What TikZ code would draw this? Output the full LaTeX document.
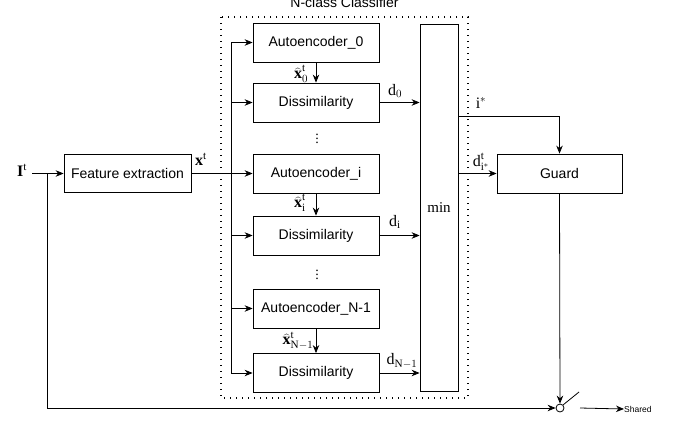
\documentclass[tikz,border=0pt]{standalone}
\usepackage{fontspec}
\setmainfont{Liberation Serif}
\setsansfont{Liberation Sans}
\usetikzlibrary{arrows.meta}
\begin{document}
\begin{tikzpicture}[x=1pt,y=-1pt,
  box/.style={draw, line width=0.8pt, font=\sffamily\fontsize{14}{16}\selectfont, inner sep=0pt, minimum width=126pt, minimum height=39pt},
  arr/.style={-{Stealth[length=8pt,width=6.5pt]}, line width=0.8pt},
  ln/.style={line width=0.8pt},
  lab/.style={font=\fontsize{16}{18}\selectfont, inner sep=0pt}]
\useasboundingbox (0,0) rectangle (688,423);

% dotted classifier frame and title
\draw[line width=1.4pt, dash pattern=on 1.4pt off 4.6pt] (221,17) rectangle (468,398);
\node[font=\sffamily\fontsize{14}{16}\selectfont, anchor=base, inner sep=0pt] (title) at (344.5,8) {N-class Classifier};

% boxes
\node[box, minimum width=127pt, minimum height=38pt] (fe) at (127.5,173.5) {Feature extraction};
\node[box] (ae0) at (316,42.5) {Autoencoder\_0};
\node[box] (dis0) at (316,102.5) {Dissimilarity};
\node[box] (aei) at (316,173.5) {Autoencoder\_i};
\node[box] (disi) at (316,235.5) {Dissimilarity};
\node[box] (aeN) at (316,308.5) {Autoencoder\_N-1};
\node[box] (disN) at (316,373) {Dissimilarity};
\node[box, font=\rmfamily\fontsize{15}{17}\selectfont, minimum width=38pt, minimum height=367pt] (min) at (439,207.5) {min};
\node[box, minimum width=125pt, minimum height=39pt] (guard) at (559.5,173.5) {Guard};

% dots
\node[font=\fontsize{14}{16}\selectfont, inner sep=0pt] (dots1) at (317,136) {$\vdots$};
\node[font=\fontsize{14}{16}\selectfont, inner sep=0pt] (dots2) at (317,272) {$\vdots$};

% labels
\node[lab] (Ilab) at (22,170) {$\mathbf{I}^{\mathrm{t}}$};
\node[lab] (xlab) at (201,159) {$\mathbf{x}^{\mathrm{t}}$};
\node[lab] (xh0) at (301,74) {$\widehat{\mathbf{x}}^{\mathrm{t}}_{0}$};
\node[lab] (xhi) at (300,203) {$\widehat{\mathbf{x}}^{\mathrm{t}}_{\mathrm{i}}$};
\node[lab] (xhN) at (298,341) {$\widehat{\mathbf{x}}^{\mathrm{t}}_{\mathrm{N}-1}$};
\node[lab] (d0) at (395,91) {$\mathrm{d}_{0}$};
\node[lab] (di) at (395,222) {$\mathrm{d}_{\mathrm{i}}$};
\node[lab] (dN) at (402,361) {$\mathrm{d}_{\mathrm{N}-1}$};
\node[lab] (istarlab) at (481,103) {$\mathrm{i}^{*}$};
\node[lab] (dstar) at (481,162) {$\mathrm{d}^{\mathrm{t}}_{\mathrm{i}^{*}}$};

% input
\coordinate (split) at (47,173.5);
\draw[arr] ([xshift=5pt]Ilab.east |- fe.west) -- (fe.west);
\draw[arr] (fe.east) -- (aei.west);

% bus
\coordinate (bus) at (231,0);
\draw[ln] (bus |- ae0.west) -- (bus |- disN.west);
\draw[arr] (bus |- ae0.west) -- (ae0.west);
\draw[arr] (bus |- dis0.west) -- (dis0.west);
\draw[arr] (bus |- disi.west) -- (disi.west);
\draw[arr] (bus |- aeN.west) -- (aeN.west);
\draw[arr] (bus |- disN.west) -- (disN.west);

% autoencoder -> dissimilarity
\draw[arr] (ae0.south) -- (dis0.north);
\draw[arr] (aei.south) -- (disi.north);
\draw[arr] (aeN.south) -- (disN.north);

% dissimilarity -> min
\draw[arr] (dis0.east) -- (min.west |- dis0.east);
\draw[arr] (disi.east) -- (min.west |- disi.east);
\draw[arr] (disN.east) -- (min.west |- disN.east);

% min -> guard
\draw[arr] (min.east |- 0,116) -| (guard.north);
\draw[arr] (min.east |- guard.west) -- (guard.west);

% switch
\node[draw, circle, line width=0.8pt, minimum size=8pt, inner sep=0pt] (sw) at (560,408) {};
\coordinate (lever) at (579,392);
\coordinate (out) at (580,408);
\node[font=\sffamily\fontsize{8.5}{10}\selectfont, anchor=west, inner sep=0pt] (shared) at (624,409) {Shared};
\draw[arr] (guard.south) -- (sw.north);
\draw[ln] (sw.45) -- (lever);
\draw[arr] (split) |- (sw.west);
\draw[arr] (out) -- (shared.west);
\end{tikzpicture}
\end{document}
